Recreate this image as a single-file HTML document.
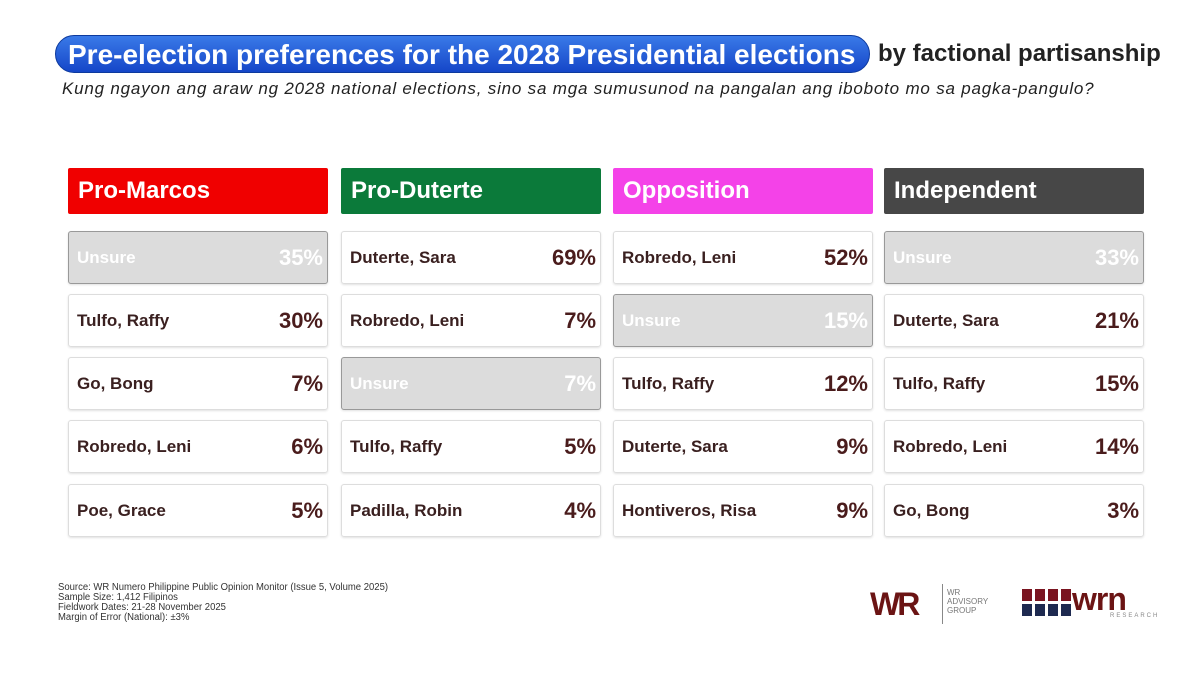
<!DOCTYPE html>
<html><head><meta charset="utf-8"><style>
body{margin:0;width:1200px;height:676px;background:#fff;position:relative;overflow:hidden;font-family:"Liberation Sans",sans-serif}
.a{position:absolute}
.title{left:55px;top:35px;width:815px;height:38px;border-radius:19px;background:linear-gradient(#3a7ae8,#1546c8);border:1px solid #0d3a9e;color:#fff;font-weight:bold;font-size:28px;line-height:38px;padding-left:12px;box-sizing:border-box;letter-spacing:0px;white-space:nowrap}
.hd{height:46px;color:#fff;font-weight:bold;font-size:24px;line-height:46px;padding-left:10px;box-sizing:border-box;border-radius:2px}
.r{width:260px;height:53px;border:1px solid #ddd;border-radius:3px;box-sizing:border-box;box-shadow:0 1px 2px rgba(0,0,0,.12);font-weight:bold;color:#3a2020;font-size:17px;line-height:52px;padding-left:8px}
.r span{position:absolute;right:4px;top:0;font-size:22px;color:#4a1c1c}
.u{background:#dcdcdc;border-color:#999;color:#fff}
.u span{color:#fff}
.foot{left:58px;top:583px;font-size:10px;line-height:10px;color:#333;transform:scaleX(0.95);transform-origin:left}
</style></head><body>
<div class="a title">Pre-election preferences for the 2028 Presidential elections</div>
<div class="a" style="left:878px;top:40px;font-size:24px;font-weight:bold;color:#222;white-space:nowrap">by factional partisanship</div>
<div class="a" style="left:62px;top:79px;font-size:17px;font-style:italic;color:#222;white-space:nowrap;letter-spacing:0.8px">Kung ngayon ang araw ng 2028 national elections, sino sa mga sumusunod na pangalan ang iboboto mo sa pagka-pangulo?</div>

<div class="a hd" style="left:68px;top:168px;width:260px;background:#f00000">Pro-Marcos</div>
<div class="a hd" style="left:341px;top:168px;width:260px;background:#0b7a3a">Pro-Duterte</div>
<div class="a hd" style="left:613px;top:168px;width:260px;background:#f442e8">Opposition</div>
<div class="a hd" style="left:884px;top:168px;width:260px;background:#474747">Independent</div>

<div class="a r u" style="left:68px;top:231px">Unsure<span>35%</span></div>
<div class="a r" style="left:68px;top:294px">Tulfo, Raffy<span>30%</span></div>
<div class="a r" style="left:68px;top:357px">Go, Bong<span>7%</span></div>
<div class="a r" style="left:68px;top:420px">Robredo, Leni<span>6%</span></div>
<div class="a r" style="left:68px;top:484px">Poe, Grace<span>5%</span></div>

<div class="a r" style="left:341px;top:231px">Duterte, Sara<span>69%</span></div>
<div class="a r" style="left:341px;top:294px">Robredo, Leni<span>7%</span></div>
<div class="a r u" style="left:341px;top:357px">Unsure<span>7%</span></div>
<div class="a r" style="left:341px;top:420px">Tulfo, Raffy<span>5%</span></div>
<div class="a r" style="left:341px;top:484px">Padilla, Robin<span>4%</span></div>

<div class="a r" style="left:613px;top:231px">Robredo, Leni<span>52%</span></div>
<div class="a r u" style="left:613px;top:294px">Unsure<span>15%</span></div>
<div class="a r" style="left:613px;top:357px">Tulfo, Raffy<span>12%</span></div>
<div class="a r" style="left:613px;top:420px">Duterte, Sara<span>9%</span></div>
<div class="a r" style="left:613px;top:484px">Hontiveros, Risa<span>9%</span></div>

<div class="a r u" style="left:884px;top:231px">Unsure<span>33%</span></div>
<div class="a r" style="left:884px;top:294px">Duterte, Sara<span>21%</span></div>
<div class="a r" style="left:884px;top:357px">Tulfo, Raffy<span>15%</span></div>
<div class="a r" style="left:884px;top:420px">Robredo, Leni<span>14%</span></div>
<div class="a r" style="left:884px;top:484px">Go, Bong<span>3%</span></div>

<div class="a foot">Source: WR Numero Philippine Public Opinion Monitor (Issue 5, Volume 2025)<br>Sample Size: 1,412 Filipinos<br>Fieldwork Dates: 21-28 November 2025<br>Margin of Error (National): ±3%</div>

<div class="a" style="left:870px;top:586px;font-size:32px;font-weight:bold;color:#6b1414;letter-spacing:-3px">WR</div>
<div class="a" style="left:942px;top:584px;width:1px;height:40px;background:#888"></div>
<div class="a" style="left:947px;top:588px;font-size:8px;line-height:9px;color:#777">WR<br>ADVISORY<br>GROUP</div>
<svg class="a" style="left:1022px;top:589px" width="60" height="30">
<g fill="#7a1420"><rect x="0" y="0" width="10" height="12"/><rect x="13" y="0" width="10" height="12"/><rect x="26" y="0" width="10" height="12"/><rect x="39" y="0" width="10" height="12"/></g>
<g fill="#1e2a50"><rect x="0" y="15" width="10" height="12"/><rect x="13" y="15" width="10" height="12"/><rect x="26" y="15" width="10" height="12"/><rect x="39" y="15" width="10" height="12"/></g>
</svg>
<div class="a" style="left:1072px;top:581px;font-size:32px;font-weight:bold;color:#6b1414;letter-spacing:-1px">wrn</div>
<div class="a" style="left:1110px;top:613px;font-size:6px;color:#888;letter-spacing:2px">RESEARCH</div>
</body></html>
